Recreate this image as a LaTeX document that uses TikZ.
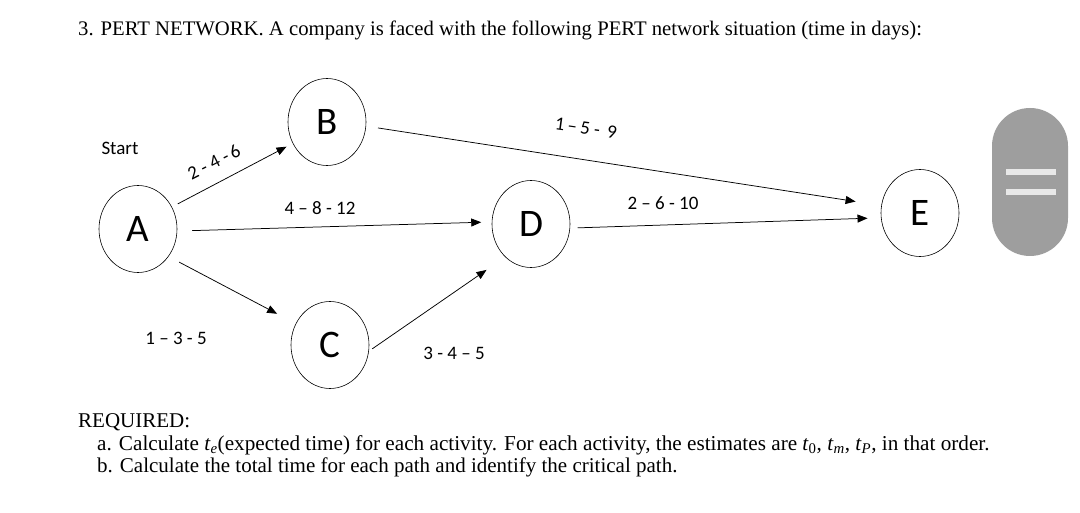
\documentclass[tikz,border=0pt]{standalone}
\usepackage{fontspec}
\setmainfont{Liberation Serif}
\newfontfamily\carlitofont{Carlito}
\usetikzlibrary{arrows.meta,shapes.geometric}
\definecolor{pillgray}{HTML}{9E9E9E}
\definecolor{barlight}{HTML}{E8E8E8}
\newcommand{\tsub}[1]{\textit{t}\textsubscript{#1}}
\tikzset{
  event/.style={draw, ellipse, line width=0.6pt, minimum width=78pt, minimum height=87pt, inner sep=0pt, font=\carlitofont\fontsize{39}{39}\selectfont},
  arr/.style={line width=0.75pt, -{Triangle[length=10pt,width=8pt]}},
  lab/.style={font=\carlitofont\fontsize{19}{19}\selectfont, inner sep=0pt},
  txt/.style={anchor=base west, inner sep=0pt, font=\fontsize{21}{23}\selectfont}
}
\begin{document}
\begin{tikzpicture}[x=1pt,y=-1pt]
\useasboundingbox (0,0) rectangle (1080,513);
% title
\node[txt, font=\fontsize{20.7}{23}\selectfont] (title) at (78,36) {3. PERT NETWORK. A company is faced with the following PERT network situation (time in days):};
% events
\node[event] (A) at (138,229) {A};
\node[event] (B) at (327,122) {B};
\node[event] (C) at (330,345) {C};
\node[event] (D) at (531,224) {D};
\node[event] (E) at (920,213) {E};
\node[lab] (start) at (120,148) {Start};
% connectors
\draw[arr, shorten <=6.6pt, shorten >=7pt] (A.33.7) -- (B.212);
\draw[arr, shorten <=15pt, shorten >=10.5pt] (A.-3.2) -- (D.177.7);
\draw[arr, shorten <=12pt, shorten >=21pt] (A.-42.7) -- (C.148.4);
\draw[arr, shorten <=4pt, shorten >=22.7pt] (C.-9.2) -- (D.232.6);
\draw[arr, shorten <=12pt, shorten >=26pt] (B.-6.7) -- (E.169.4);
\draw[arr, shorten <=7.6pt, shorten >=13.4pt] (D.-6.2) -- (E.187.7);
% labels
\node[lab, rotate=27] (lab1) at (214,162) {2 - 4 -\,6};
\node[lab] (lab2) at (320,208) {4 – 8 - 12};
\node[lab] (lab3) at (176,338) {1 – 3 - 5};
\node[lab] (lab4) at (454,353) {3 - 4 – 5};
\node[lab, rotate=-8] (lab5) at (586,128) {1\,–\,5 -\, 9};
\node[lab] (lab6) at (663,203) {2 – 6 - 10};
% pill
\fill[pillgray, rounded corners=38pt] (992,108) rectangle (1068,256);
\fill[barlight] (1006,169) rectangle (1056,175);
\fill[barlight] (1006,189) rectangle (1056,195);
% required
\node[txt] (req) at (78,427) {REQUIRED:};
\node[txt, font=\fontsize{21.2}{23}\selectfont] (reqa) at (97,450) {a. Calculate \tsub{\textit{e}}(expected time) for each activity. For each activity, the estimates are \tsub{0}, \tsub{\textit{m}}, \tsub{\textit{P}}, in that order.};
\node[txt] (reqb) at (97,472) {b. Calculate the total time for each path and identify the critical path.};
\end{tikzpicture}
\end{document}
